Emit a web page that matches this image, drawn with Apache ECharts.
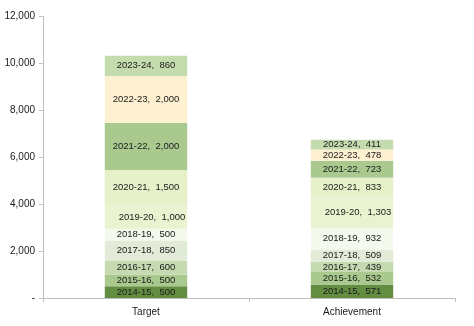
<!DOCTYPE html>
<html>
<head>
<meta charset="utf-8">
<script src="https://cdn.jsdelivr.net/npm/echarts@6/dist/echarts.min.js"></script>
<style>
  html, body { margin: 0; padding: 0; background: #fff; }
  #chart { width: 474px; height: 326px; }
</style>
</head>
<body>
<div id="chart"></div>
<script>
// Stacked target vs achievement by financial year
const categories = ['Target', 'Achievement'];
const years = ['2014-15', '2015-16', '2016-17', '2017-18', '2018-19',
               '2019-20', '2020-21', '2021-22', '2022-23', '2023-24'];
const targetValues = [500, 500, 600, 850, 500, 1000, 1500, 2000, 2000, 860];
const achievementValues = [571, 532, 439, 509, 932, 1303, 833, 723, 478, 411];
const yTicks = [0, 2000, 4000, 6000, 8000, 10000, 12000];

const yearColors = ['#638e42', '#a9c98f', '#c5dab0', '#e1ebd7', '#f3f9ec',
                    '#e9f3cf', '#e6f1c9', '#a9c98f', '#fef1d2', '#c4dbae'];

const fontFamily = 'Liberation Sans, Arial, sans-serif';
const fmt = v => v.toLocaleString('en-US');

const series = years.map((y, i) => ({
  name: y,
  type: 'bar',
  stack: 'total',
  barWidth: '40%',
  data: [targetValues[i], achievementValues[i]],
  itemStyle: { color: yearColors[i] },
  label: {
    show: true,
    position: 'inside',
    formatter: p => p.seriesName + ',  ' + fmt(p.value),
    color: '#1a1a1a',
    fontSize: 9.5,
    fontFamily: fontFamily,
    offset: y === '2019-20' ? [6, 0] : [0, 0]
  }
}));

const chart = echarts.init(document.getElementById('chart'), null, { renderer: 'canvas' });
chart.setOption({
  animation: false,
  backgroundColor: '#ffffff',
  grid: { left: 43, right: 19, top: 16, bottom: 28, containLabel: false },
  xAxis: {
    type: 'category',
    data: categories,
    axisLine: { show: true, lineStyle: { color: '#bfbfbf', width: 1 } },
    axisTick: { show: true, alignWithLabel: false, length: 4, lineStyle: { color: '#bfbfbf' } },
    axisLabel: { color: '#1a1a1a', fontSize: 10, fontFamily: fontFamily, margin: 9 }
  },
  yAxis: {
    type: 'value',
    min: yTicks[0],
    max: yTicks[yTicks.length - 1],
    interval: yTicks[1] - yTicks[0],
    splitLine: { show: false },
    axisLine: { show: true, lineStyle: { color: '#bfbfbf', width: 1 } },
    axisTick: { show: true, length: 4, lineStyle: { color: '#bfbfbf' } },
    axisLabel: {
      color: '#1a1a1a', fontSize: 10, fontFamily: fontFamily, margin: 8,
      formatter: v => v === 0 ? '-' : fmt(v)
    }
  },
  series: series
});
</script>
</body>
</html>
